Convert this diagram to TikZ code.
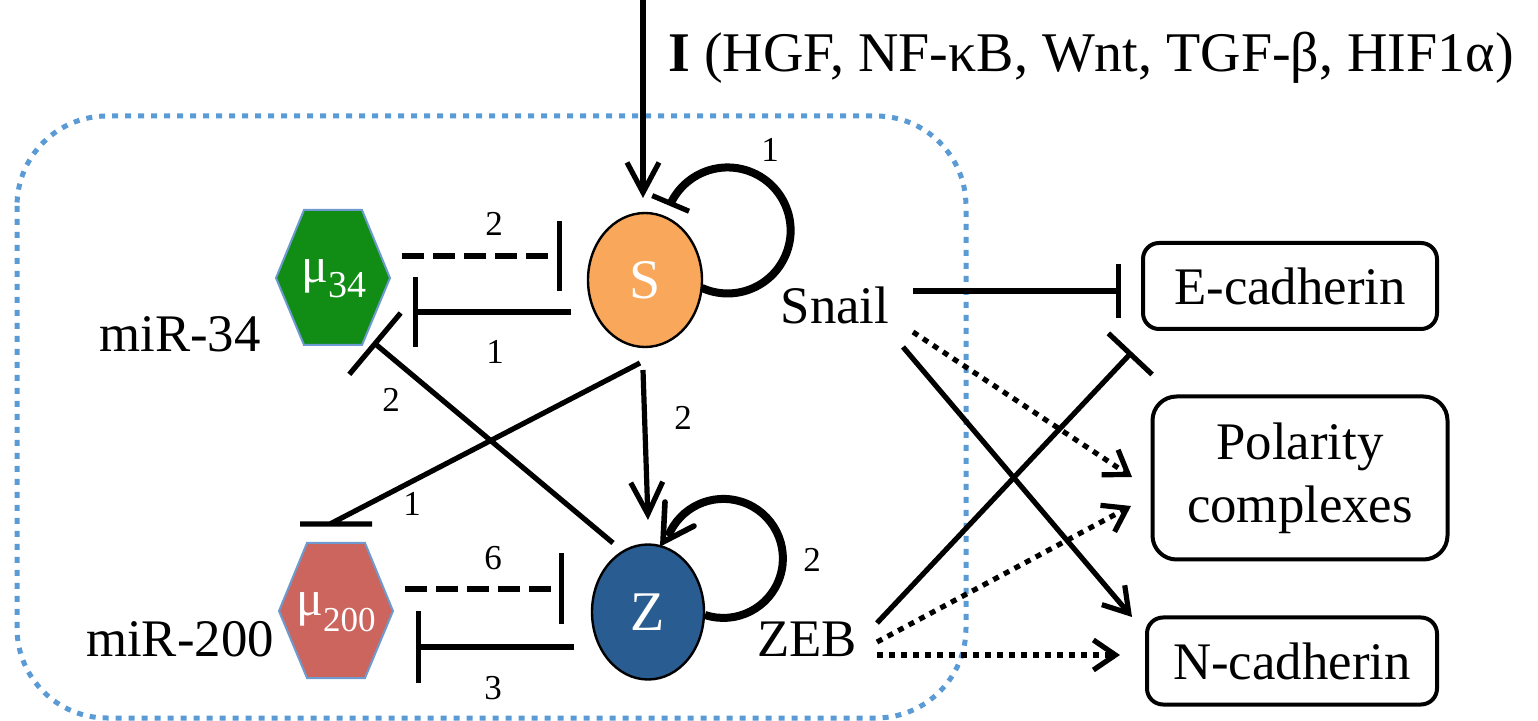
\documentclass[tikz,border=0pt]{standalone}
\usepackage{fontspec}
\setmainfont{Liberation Serif}
\usetikzlibrary{arrows.meta,calc,bending,shapes.geometric,backgrounds}
\definecolor{sorange}{HTML}{F9A75B}
\definecolor{zblue}{HTML}{295C90}
\definecolor{mugreen}{HTML}{118C15}
\definecolor{mured}{HTML}{CD655F}
\definecolor{hexline}{HTML}{6D9BCF}
\definecolor{boxblue}{HTML}{5B9BD5}
\begin{document}
\begin{tikzpicture}[x=0.5pt,y=-0.5pt,
  lbl/.style={font=\fontsize{26.4}{30}\selectfont, inner sep=0pt},
  num/.style={font=\fontsize{17.5}{20}\selectfont, inner sep=0pt},
  gene/.style={ellipse, draw, line width=1.2pt, inner sep=0pt, minimum width=57pt, minimum height=67pt, text=white, font=\fontsize{28}{30}\selectfont},
  outbox/.style={draw, rounded corners=8pt, line width=2pt, inner sep=0pt, align=center, font=\fontsize{26.4}{31.5}\selectfont},
  hexa/.style={draw=hexline, line width=1pt},
  mulbl/.style={inner sep=0pt, text=white, font=\fontsize{25}{26}\selectfont},
  link/.style={line width=2.6pt},
  act/.style={link, -{Straight Barb[length=15pt,width=16pt]}},
  actsm/.style={link, -{Straight Barb[length=12pt,width=15pt]}},
  inh/.style={link, -{Bar[width=35pt]}},
  dashedlink/.style={link, dash pattern=on 11pt off 4.5pt},
  dotlink/.style={link, dash pattern=on 3pt off 3pt, -{Straight Barb[length=11pt,width=15pt]}},
  boxdot/.style={draw=boxblue, line width=2.5pt, dash pattern=on 3pt off 3.5pt, rounded corners=45pt}
]
\useasboundingbox (0,0) rectangle (1538,721);

% dotted module box
\draw[boxdot] (17,116) rectangle (966,718);

% nodes
\node[gene, fill=sorange] (S) at (645,280) {S};
\node[gene, fill=zblue, minimum width=56pt, minimum height=67.5pt] (Z) at (648,612) {Z};

\node[mulbl] (mu34) at (334,279) {μ\raisebox{-0.3em}{\fontsize{19}{20}\selectfont 34}};
\node[mulbl] (mu200) at (336,612) {μ\raisebox{-0.32em}{\fontsize{17.5}{18}\selectfont 200}};
\begin{scope}[on background layer]
\draw[hexa, fill=mugreen] ($(mu34)+(-58,-1)$) -- ($(mu34)+(-30,-69)$) -- ($(mu34)+(28,-69)$) -- ($(mu34)+(56,-1)$) -- ($(mu34)+(28,66)$) -- ($(mu34)+(-30,66)$) -- cycle;
\draw[hexa, fill=mured] ($(mu200)+(-57,-1)$) -- ($(mu200)+(-29,-69)$) -- ($(mu200)+(29,-69)$) -- ($(mu200)+(57,-1)$) -- ($(mu200)+(29,66)$) -- ($(mu200)+(-29,66)$) -- cycle;
\end{scope}

\node[lbl] (miR34) at (180,334) {miR-34};
\node[lbl] (miR200) at (180,639) {miR-200};
\node[lbl] (Snail) at (835,305) {Snail};
\node[lbl] (ZEB) at (807,639) {ZEB};

\node[outbox, minimum width=147pt, minimum height=43pt] (Ecad) at (1290,286) {E-cadherin};
\node[outbox, minimum width=147.5pt, minimum height=81.5pt, rounded corners=12pt] (Polar) at (1300,478) {Polarity\\complexes};
\node[outbox, minimum width=145pt, minimum height=43.5pt] (Ncad) at (1292,661) {N-cadherin};

\node[anchor=base west, inner sep=0pt, font=\fontsize{28}{30}\selectfont] (Iin) at (668,72) {\textbf{I} (HGF, NF-κB, Wnt, TGF-β, HIF1α)};

% input
\coordinate (Itop) at (643,0);
\draw[act] (Itop) -- ($(S)+(-2,-82)$);

% S self inhibition loop
\draw[line width=4pt, -{Bar[width=20pt,line width=2.6pt]}] ($(S)+(57,8)$) arc[start angle=-114, end angle=157, radius=31.5pt];
\node[num] (n1a) at (770,150) {1};

% miR-34 <-> S
\draw[dashedlink, -{Bar[width=35pt]}] ($(mu34)+(68,-23)$) -- ($(S)+(-83,-24)$);
\node[num] (n2a) at (494,224) {2};
\draw[inh] ($(S)+(-74,32)$) -- ($(mu34)+(79,33)$);
\node[num] (n1b) at (495,352) {1};

% S -| miR-200 (horizontal bar)
\draw[link] ($(S)+(-5,83)$) -- ($(mu200)+(-6,-88)$) ($(mu200)+(-36,-88)$) -- ($(mu200)+(36,-88)$);
\node[num] (n1c) at (412,504) {1};

% Z -| miR-34
\draw[link, -{Bar[width=40pt]}] ($(Z)+(-35,-69)$) -- ($(mu34)+(39,63)$);
\node[num] (n2b) at (391,400) {2};

% S -> Z
\draw[link, -{Straight Barb[length=16pt,width=16pt]}] ($(S)+(-2,90)$) -- ($(Z)+(0,-92)$);
\node[num] (n2c) at (683,418) {2};

% Z self activation loop
\draw[line width=4pt] ($(Z)+(57,3)$) arc[start angle=-108, end angle=158, radius=29.75pt];
\draw[line width=2.8pt, line cap=round, line join=miter] ($(Z)+(17,-110)$) -- ($(Z)+(15,-70)$) -- ($(Z)+(46,-86)$);
\node[num] (n2d) at (812,560) {2};

% miR-200 <-> Z
\draw[dashedlink, -{Bar[width=35.5pt]}] ($(mu200)+(69,-23)$) -- ($(Z)+(-84,-23)$);
\node[num] (n6) at (493,558) {6};
\draw[inh, -{Bar[width=36pt]}] ($(Z)+(-74,35)$) -- ($(mu200)+(80,35)$);
\node[num] (n3) at (493,688) {3};

% outputs
\draw[link, -{Bar[width=27pt]}] ($(Snail)+(78,-14)$) -- ($(Ecad)+(-169,5)$);
\draw[link, -{Bar[width=30pt]}] ($(ZEB)+(70,-16)$) -- ($(Ecad)+(-158,66)$);
\draw[actsm] ($(Snail)+(68,42)$) -- ($(Ncad)+(-160,-44)$);
\draw[dotlink] ($(Snail)+(78,27)$) -- ($(Polar)+(-168,-1)$);
\draw[dotlink] ($(ZEB)+(70,3)$) -- ($(Polar)+(-169,28)$);
\draw[dotlink] ($(ZEB)+(70,16)$) -- ($(Ncad)+(-172,-6)$);
\end{tikzpicture}
\end{document}
